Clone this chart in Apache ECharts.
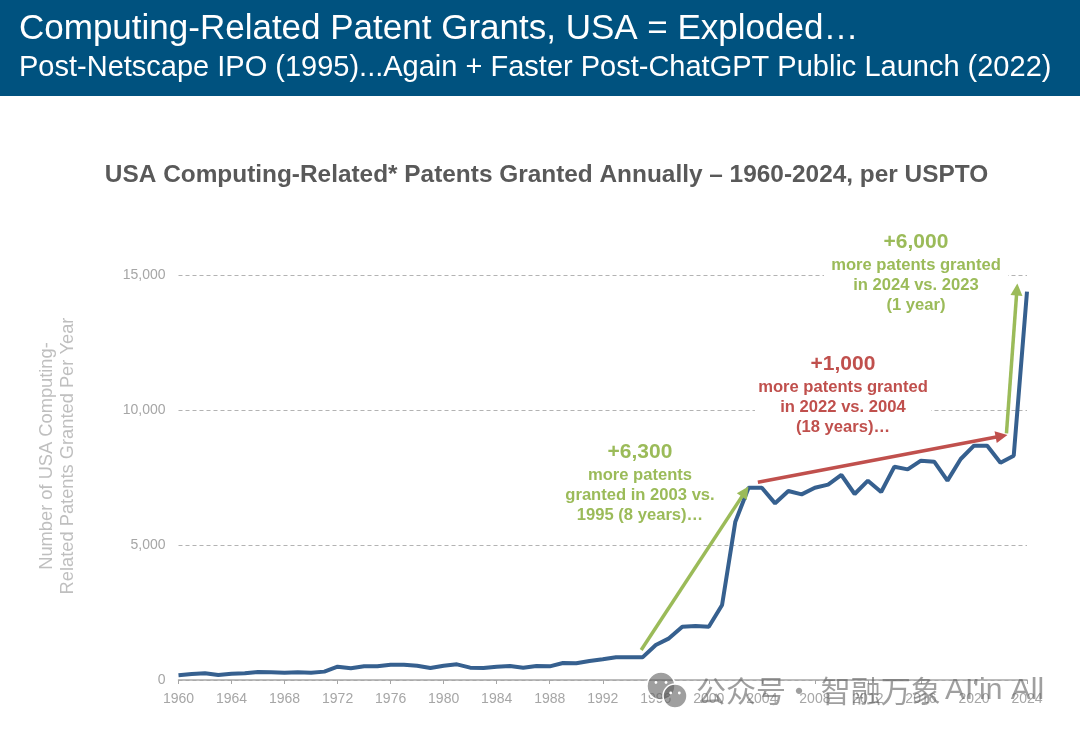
<!DOCTYPE html>
<html>
<head>
<meta charset="utf-8">
<script src="https://cdn.jsdelivr.net/npm/echarts@6/dist/echarts.min.js"></script>
<style>
html, body { margin: 0; padding: 0; background: #fff; }
#main { width: 1080px; height: 735px; }
</style>
</head>
<body>
<div id="main"></div>
<script>
var years = [1960,1961,1962,1963,1964,1965,1966,1967,1968,1969,1970,1971,1972,1973,1974,1975,1976,1977,1978,1979,1980,1981,1982,1983,1984,1985,1986,1987,1988,1989,1990,1991,1992,1993,1994,1995,1996,1997,1998,1999,2000,2001,2002,2003,2004,2005,2006,2007,2008,2009,2010,2011,2012,2013,2014,2015,2016,2017,2018,2019,2020,2021,2022,2023,2024];
var patents = [175,220,247,185,235,247,296,284,272,284,272,310,494,432,506,506,568,568,530,444,530,580,457,444,494,518,457,518,506,630,617,704,765,839,839,839,1296,1543,1975,2000,1975,2778,5864,7123,7123,6543,7000,6876,7123,7235,7593,6889,7383,6963,7901,7802,8123,8086,7383,8185,8679,8679,8049,8308,14382];

// arrows, [year, patents] start and end (end = centre of the arrow head)
var arrow1995 = [[1994.9, 1111], [2002.74, 6978]];
var arrow2004 = [[2003.7, 7322], [2022.08, 9037]];
var arrow2023 = [[2022.45, 9136], [2023.24, 14463]];

var GREEN = '#9BBB59';
var RED = '#C0504D';
var BLUE = '#36608F';
var MARK = 'rgba(95,95,95,0.6)';

function arrowLine(pts, color) {
  return [{
    coord: pts[0],
    symbol: 'none'
  }, {
    coord: pts[1],
    symbol: 'triangle',
    symbolSize: 12,
    lineStyle: { color: color, width: 3.5, type: 'solid' },
    itemStyle: { color: color }
  }];
}

// big number + small lines, white box knocks out the gridline behind it
function note(cx, top, big, lines, color, boxW, boxH) {
  return [{
    type: 'rect', z: 1, silent: true,
    shape: { x: cx - boxW / 2, y: top, width: boxW, height: boxH },
    style: { fill: '#fff' }
  }, {
    type: 'text', z: 5, silent: true, x: cx, y: top + 1,
    style: { text: big, fill: color, font: 'bold 21px "Liberation Sans"', align: 'center', verticalAlign: 'top' }
  }, {
    type: 'text', z: 5, silent: true, x: cx, y: top + 24,
    style: { text: lines, fill: color, font: 'bold 16.6px "Liberation Sans"', lineHeight: 20, align: 'center', verticalAlign: 'top' }
  }];
}

// watermark chat bubble with two eyes
function bubble(cx, cy, r) {
  var eye = r * 0.36;
  return [{
    type: 'circle', z: 6, silent: true,
    shape: { cx: cx, cy: cy, r: r },
    style: { fill: MARK, stroke: '#fff', lineWidth: 1.5 }
  }, {
    type: 'circle', z: 7, silent: true,
    shape: { cx: cx - eye, cy: cy - r * 0.25, r: 1.4 },
    style: { fill: '#fff' }
  }, {
    type: 'circle', z: 7, silent: true,
    shape: { cx: cx + eye, cy: cy - r * 0.25, r: 1.4 },
    style: { fill: '#fff' }
  }];
}

var chart = echarts.init(document.getElementById('main'));

var option = {
  animation: false,
  backgroundColor: '#fff',
  textStyle: { fontFamily: '"Liberation Sans"' },
  title: {
    text: 'USA Computing-Related* Patents Granted Annually \u2013 1960-2024, per USPTO',
    left: 541.5,
    top: 158,
    textAlign: 'center',
    textStyle: { color: '#595959', fontSize: 24.4, fontWeight: 'bold', fontFamily: '"Liberation Sans"' }
  },
  grid: { left: 178.5, right: 53, top: 275, bottom: 55 },
  xAxis: {
    type: 'value',
    min: 1960,
    max: 2024,
    interval: 4,
    splitLine: { show: false },
    axisLine: { lineStyle: { color: '#A6A6A6', width: 1.5 } },
    axisTick: { show: true, length: 4, lineStyle: { color: '#A6A6A6' } },
    axisLabel: {
      color: '#A6A6A6', fontSize: 14, margin: 12,
      formatter: function (v) { return String(v); }
    }
  },
  yAxis: {
    type: 'value',
    min: 0,
    max: 15000,
    interval: 5000,
    axisLine: { show: false },
    axisTick: { show: false },
    axisLabel: { color: '#A6A6A6', fontSize: 14, margin: 13, padding: [2, 0, 0, 0] },
    splitLine: { lineStyle: { color: '#B3B3B3', type: [4, 3], width: 1 } }
  },
  series: [{
    type: 'line',
    z: 3,
    symbol: 'none',
    lineStyle: { color: BLUE, width: 4 },
    data: years.map(function (y, i) { return [y, patents[i]]; }),
    markLine: {
      silent: true,
      z: 4,
      label: { show: false },
      emphasis: { disabled: true },
      lineStyle: { type: 'solid', width: 3.5 },
      data: [
        arrowLine(arrow1995, GREEN),
        arrowLine(arrow2004, RED),
        arrowLine(arrow2023, GREEN)
      ]
    }
  }],
  graphic: {
    elements: [{
      type: 'rect', z: 0, silent: true,
      shape: { x: 0, y: 0, width: 1080, height: 96 },
      style: { fill: '#00527F' }
    }, {
      type: 'text', z: 5, silent: true, x: 19, y: 12,
      style: { text: 'Computing-Related Patent Grants, USA = Exploded\u2026', fill: '#fff', font: '35px "Liberation Sans"' }
    }, {
      type: 'text', z: 5, silent: true, x: 19, y: 53,
      style: { text: 'Post-Netscape IPO (1995)...Again + Faster Post-ChatGPT Public Launch (2022)', fill: '#fff', font: '29px "Liberation Sans"' }
    }, {
      type: 'text', z: 5, silent: true, x: 57, y: 456, rotation: Math.PI / 2,
      style: {
        text: 'Number of USA Computing-\nRelated Patents Granted Per Year',
        fill: '#BFBFBF', font: '18.3px "Liberation Sans"', lineHeight: 21, align: 'center', verticalAlign: 'middle'
      }
    }].concat(
      note(916, 231, '+6,000', 'more patents granted\nin 2024 vs. 2023\n(1 year)', GREEN, 184, 84),
      note(843, 353, '+1,000', 'more patents granted\nin 2022 vs. 2004\n(18 years)\u2026', RED, 176, 84),
      note(640, 441, '+6,300', 'more patents\ngranted in 2003 vs.\n1995 (8 years)\u2026', GREEN, 160, 84),
      bubble(661, 686, 14),
      bubble(675, 696, 12),
      [{
        type: 'text', z: 6, silent: true, x: 696, y: 691,
        style: { text: '\u516C\u4F17\u53F7', fill: MARK, font: '30px "Noto Sans CJK SC"', verticalAlign: 'middle' }
      }, {
        type: 'text', z: 6, silent: true, x: 784, y: 691,
        style: { text: '\u00B7 \u667A\u878D\u4E07\u8C61', fill: MARK, font: '30px "Noto Sans CJK SC"', verticalAlign: 'middle' }
      }, {
        type: 'text', z: 6, silent: true, x: 945, y: 691,
        style: { text: 'AI\'in All', fill: MARK, font: '30px "Liberation Sans"', verticalAlign: 'middle' }
      }]
    )
  }
};

chart.setOption(option);
</script>
</body>
</html>
